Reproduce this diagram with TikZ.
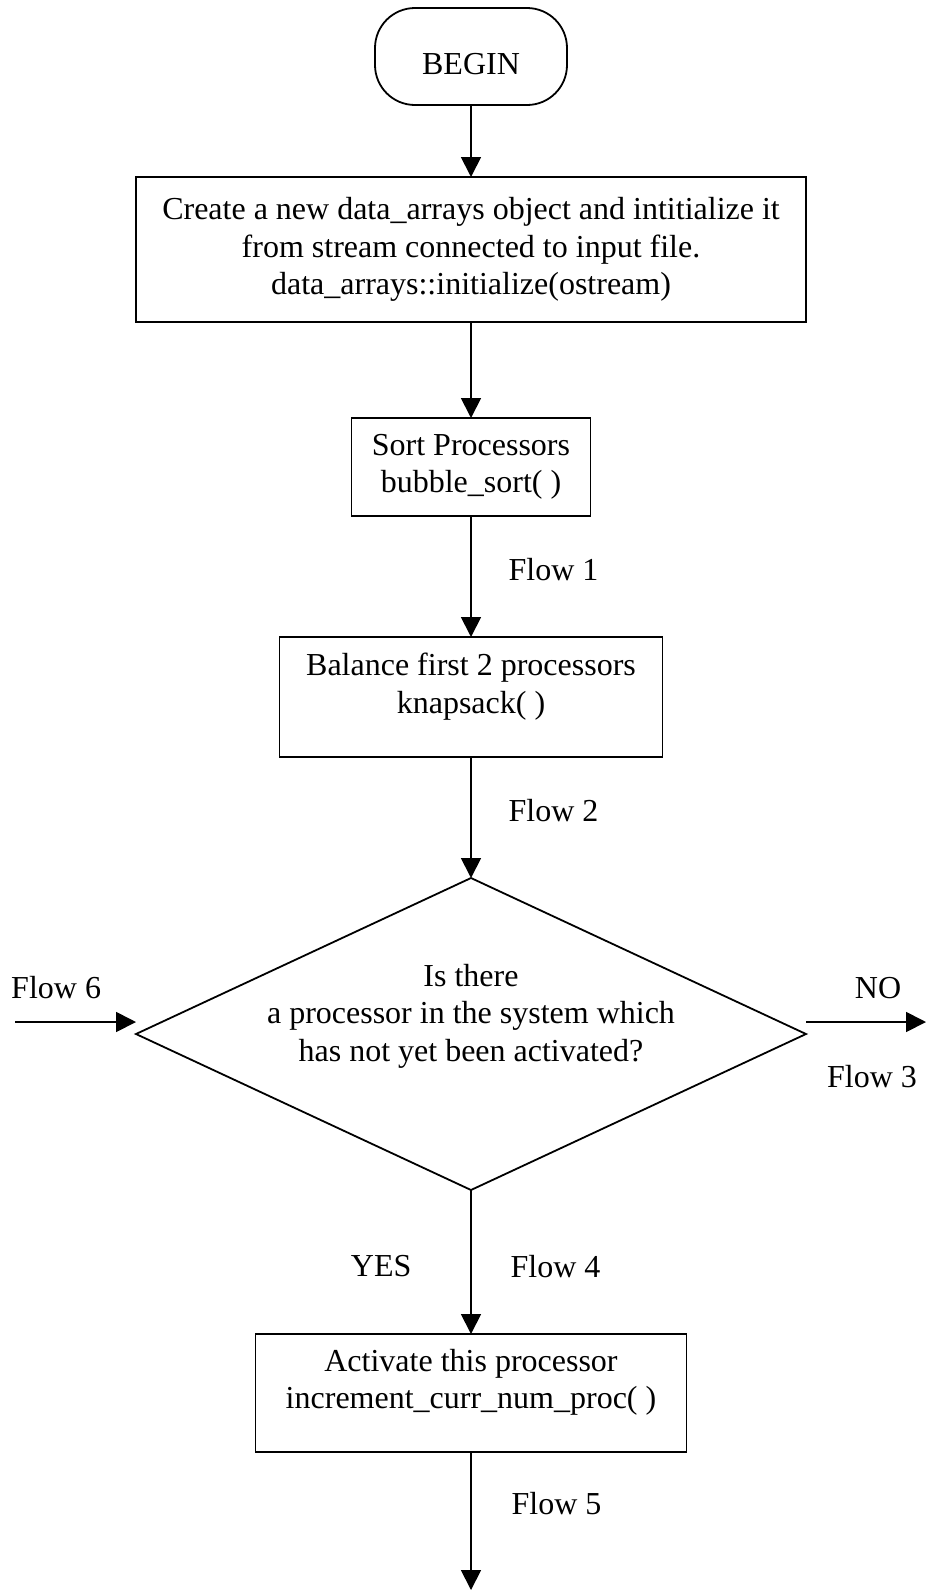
\documentclass[tikz,border=0pt]{standalone}
\usepackage{fontspec}
\setmainfont{Liberation Serif}
\usetikzlibrary{shapes.geometric, arrows.meta, positioning}

\begin{document}
\begin{tikzpicture}[x=0.5pt, y=-0.5pt, line width=0.9pt,
        >={Triangle[length=10pt,width=10pt]},
        every node/.style={font=\fontsize{16}{18.75}\selectfont},
        box/.style={draw, rectangle, align=center, outer sep=0pt}]
        \useasboundingbox (0,0) rectangle (927,1591);

        % Draw the blocks
        \node (begin)    [draw, rectangle, rounded corners=20pt, outer sep=0pt, text height=18pt, minimum width=96pt, minimum height=48.5pt] at (471,56.5) {BEGIN};
        \node (create)   [box, minimum width=335pt, minimum height=72.5pt, below=36pt of begin] {Create a new data\_arrays object and intitialize it\\from stream connected to input file.\\data\_arrays::initialize(ostream)};
        \node (sort)     [box, minimum width=119.5pt, minimum height=49pt, below=48pt of create] {Sort Processors\\bubble\_sort( )};
        \node (balance)  [box, text depth=14pt, minimum width=191.5pt, minimum height=60pt, below=60.5pt of sort] {Balance first 2 processors\\knapsack( )};
        \node (decide)   [draw, diamond, outer sep=0pt, minimum width=335pt, minimum height=156pt, inner sep=0pt, below=60.5pt of balance] {};
        \node (question) [align=center] at ([yshift=9pt]decide.center) {Is there\\a processor in the system which\\has not yet been activated?};
        \node (activate) [box, text depth=14pt, minimum width=215.5pt, minimum height=59pt, below=72pt of decide] {Activate this processor\\increment\_curr\_num\_proc( )};

        % Free ends of the open connectors
        \coordinate [below=69pt of activate] (exit);
        \coordinate (decW) at ([yshift=6pt]decide.west);
        \coordinate (decE) at ([yshift=6pt]decide.east);
        \coordinate (in6)  at ([xshift=-60.5pt]decW);
        \coordinate (out3) at ([xshift=60pt]decE);

        % Draw the connecting line
        \draw [->] (begin) -- (create);
        \draw [->] (create) -- (sort);
        \draw [->] (sort) -- node [pos=0.44, right=15pt] {Flow 1} (balance);
        \draw [->] (balance) -- node [pos=0.44, right=15pt] {Flow 2} (decide);
        \draw [->] (decide) -- node [pos=0.53, right=16pt] {Flow 4} node [pos=0.53, left=26pt] {YES} (activate);
        \draw [->] (activate) -- node [pos=0.37, right=16.5pt] {Flow 5} (exit);

        % Side connectors of the decision
        \draw [->] (in6) -- node [pos=0.34, above=8pt] {Flow 6} (decW);
        \draw [->] (decE) -- node [pos=0.6, above=8pt] {NO} node [pos=0.55, below=18pt] {Flow 3} (out3);
    \end{tikzpicture}
\end{document}
